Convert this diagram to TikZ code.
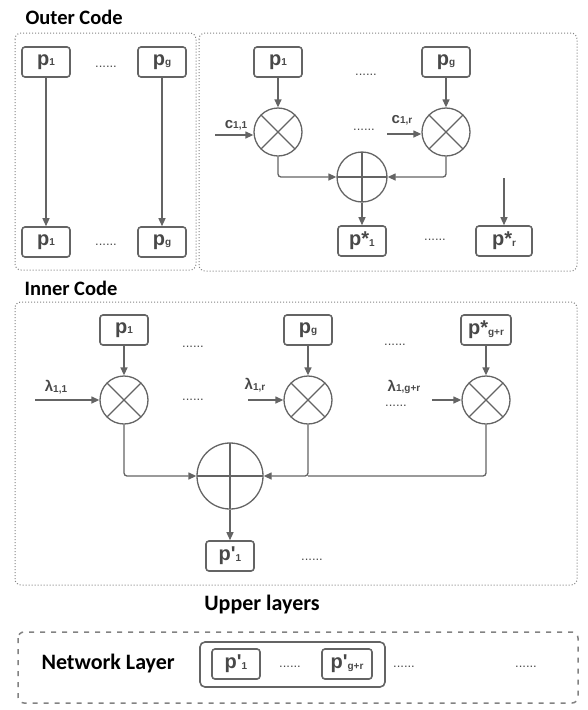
\documentclass[tikz,border=0pt]{standalone}
\usepackage{fontspec}
\setmainfont{Liberation Sans}
\newfontfamily\titlefont{Carlito}
\usetikzlibrary{arrows.meta, positioning, calc}
\definecolor{cLine}{RGB}{100,100,100}
\definecolor{cText}{RGB}{72,72,72}
\definecolor{cFrame}{RGB}{130,130,130}
\newcommand{\psub}[2]{#1{\fontsize{10}{10}\selectfont\raisebox{-0.5pt}{#2}}}
\tikzset{
	pbox/.style ={rectangle, rounded corners=3pt, draw=cLine, line width=1.6pt, minimum width=48pt, minimum height=30pt, inner sep=0pt, font=\fontsize{20}{20}\selectfont\bfseries, text=cText},
	mult/.style ={circle, draw=cLine, line width=1.3pt, minimum size=48pt, inner sep=0pt,
		path picture={\draw[cLine, line width=1.3pt] (path picture bounding box.north west) -- (path picture bounding box.south east) (path picture bounding box.north east) -- (path picture bounding box.south west);}},
	sumj/.style ={circle, draw=cLine, line width=1.3pt, minimum size=50pt, inner sep=0pt,
		path picture={\draw[cLine, line width=1.3pt] (path picture bounding box.north) -- (path picture bounding box.south) (path picture bounding box.west) -- (path picture bounding box.east);}},
	sig/.style  ={-{Triangle[length=8pt, width=7pt]}, draw=cLine, line width=1.3pt},
	coef/.style ={font=\fontsize{15}{15}\selectfont\bfseries, text=cText},
	dotsep/.style={font=\fontsize{13}{13}\selectfont, text=cText},
	frame/.style={draw=cFrame, dotted, line width=1pt, rounded corners=6pt},
	heading/.style={font=\titlefont\fontsize{20.5}{20.5}\selectfont\bfseries, anchor=west},
}
\begin{document}
\begin{tikzpicture}[x=1pt, y=-1pt]
	\useasboundingbox (0,0) rectangle (588,710);
	% outer code
	\node[heading] (outer) at (22,17) {Outer Code};
	\draw[frame] (15,33) rectangle (196,270);
	\draw[frame] (199,33) rectangle (577,271);
	\node[pbox] (lp1) at (46,62) {\psub{p}{1}};
	\node[pbox] (lpg) at (162,62) {\psub{p}{g}};
	\node[pbox] (lq1) at (46,242) {\psub{p}{1}};
	\node[pbox] (lqg) at (162,242) {\psub{p}{g}};
	\node[dotsep] (ldt) at (106,67) {......};
	\node[dotsep] (ldb) at (106,245) {......};
	\draw[sig] (lp1) -- (lq1);
	\draw[sig] (lpg) -- (lqg);
	\node[pbox] (rp1) at (278,62) {\psub{p}{1}};
	\node[pbox] (rpg) at (446,62) {\psub{p}{g}};
	\node[dotsep] (rdt) at (366,75) {......};
	\node[mult] (m1) at (278,132) {};
	\node[mult] (m2) at (446,132) {};
	\node[dotsep] (rdm) at (364,130) {......};
	\node[coef] (c11) at (236,125) {\psub{c}{1,1}};
	\node[coef] (c1r) at (402,120) {\psub{c}{1,r}};
	\coordinate (c11in) at (215,135);
	\coordinate (c1rin) at (387,134);
	\draw[sig] (c11in) -- (c11in -| m1.west);
	\draw[sig] (c1rin) -- (c1rin -| m2.west);
	\draw[sig] (rp1) -- (m1);
	\draw[sig] (rpg) -- (m2);
	\node[sumj] (s1) at (362,177) {};
	\draw[sig, rounded corners=3pt] (m1.south) |- (s1.west);
	\draw[sig, rounded corners=3pt] (m2.south) |- (s1.east);
	\node[pbox] (ps1) at (362,241) {\psub{p*}{1}};
	\node[pbox, minimum width=56pt] (psr) at (504,241) {\psub{p*}{r}};
	\node[dotsep] (rdb) at (435,240) {......};
	\coordinate (prin) at (504,178);
	\draw[sig] (s1) -- (ps1);
	\draw[sig] (prin) -- (psr);
	% inner code
	\node[heading] (inner) at (21,288) {Inner Code};
	\draw[frame] (15,302) rectangle (577,585);
	\node[pbox] (ip1) at (124,330) {\psub{p}{1}};
	\node[pbox] (ipg) at (308,330) {\psub{p}{g}};
	\node[pbox, minimum width=50pt] (ipgr) at (486,330) {\psub{p*}{g+r}};
	\node[dotsep] (idt1) at (193,347) {......};
	\node[dotsep] (idt2) at (395,345) {......};
	\node[mult] (im1) at (124,400) {};
	\node[mult] (im2) at (308,400) {};
	\node[mult] (im3) at (486,400) {};
	\node[dotsep] (idm1) at (193,400) {......};
	\node[dotsep] (idm2) at (396,406) {......};
	\node[coef] (l11) at (56,387) {\psub{λ}{1,1}};
	\node[coef] (l1r) at (255,385) {\psub{λ}{1,r}};
	\node[coef] (l1gr) at (404,387) {\psub{λ}{1,g+r}};
	\coordinate (l11in) at (35,400);
	\coordinate (l1rin) at (248,400);
	\coordinate (l1grin) at (432,400);
	\draw[sig] (l11in) -- (im1);
	\draw[sig] (l1rin) -- (im2);
	\draw[sig] (l1grin) -- (im3);
	\draw[sig] (ip1) -- (im1);
	\draw[sig] (ipg) -- (im2);
	\draw[sig] (ipgr) -- (im3);
	\node[sumj, minimum size=66pt] (is) at (230,476) {};
	\draw[sig, rounded corners=3pt] (im1.south) |- (is.west);
	\draw[sig, rounded corners=3pt] (im2.south) |- (is.east);
	\draw[cLine, line width=1.3pt, rounded corners=3pt] (im3.south) |- (im2.south |- is.east);
	\node[pbox] (iq1) at (230,556) {\psub{p\textquotesingle}{1}};
	\node[dotsep] (idb) at (312,560) {......};
	\draw[sig] (is) -- (iq1);
	% upper layers
	\node[heading, anchor=center, font=\titlefont\fontsize{22}{22}\selectfont\bfseries] (upper) at (262,605) {Upper layers};
	\draw[draw=cFrame, dash pattern=on 5pt off 6pt, line width=1.5pt, rounded corners=6pt] (18,632) rectangle (578,703);
	\node[heading, font=\titlefont\fontsize{22}{22}\selectfont\bfseries] (net) at (38,664) {Network Layer};
	\node[pbox] (np1) at (236,664) {\psub{p\textquotesingle}{1}};
	\node[pbox, minimum width=50pt] (npgr) at (347,664) {\psub{p\textquotesingle}{g+r}};
	\node[draw=cLine, line width=1.6pt, rounded corners=5pt, minimum width=185pt, minimum height=45pt] (nbox) at (292.5,664.5) {};
	\node[dotsep] (ndt1) at (290,667) {......};
	\node[dotsep] (ndt2) at (404,667) {......};
	\node[dotsep] (ndt3) at (526,667) {......};
\end{tikzpicture}
\end{document}
